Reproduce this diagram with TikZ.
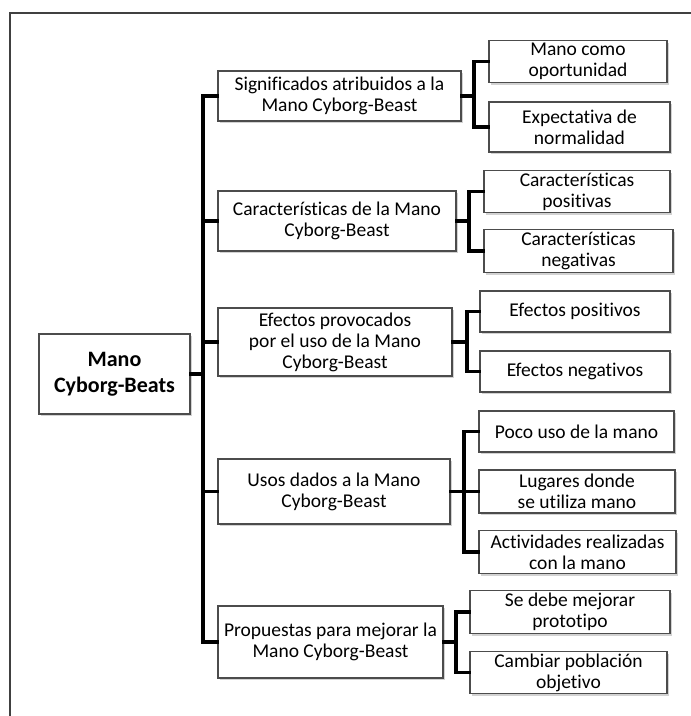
\documentclass[tikz,border=0pt]{standalone}
\usepackage{fontspec}
\setmainfont{Carlito}[Ligatures={NoCommon}]
\usetikzlibrary{shadows}
\begin{document}
\begin{tikzpicture}[x=1pt,y=-1pt,
  box/.style={draw=gray!60!black, line width=1.1pt, fill=white, align=center,
    inner sep=0pt, font=\fontsize{19.5}{21}\selectfont,
    drop shadow={shadow xshift=2pt, shadow yshift=-2pt, fill=gray!70, opacity=0.5}},
  rootbox/.style={box, font=\fontsize{22}{25.5}\selectfont\bfseries},
  conn/.style={line width=3.8pt, black, line cap=rect, line join=miter},
  frame/.style={line width=1.3pt, gray!50!black}]
\useasboundingbox (0,0) rectangle (691,716);
\draw[frame] (10,716) -- (10,13) -- (691,13);
% root
\node[rootbox, minimum width=151pt, minimum height=80pt] (root) at (114.5,374) {Mano\\Cyborg-Beats};
% level 1
\node[box, minimum width=243pt, minimum height=50pt] (s1) at (339.5,96) {Significados atribuidos a la\\Mano Cyborg-Beast};
\node[box, minimum width=238pt, minimum height=60pt] (s2) at (337,221) {Características de la Mano\\Cyborg-Beast};
\node[box, minimum width=234pt, minimum height=68pt] (s3) at (335,342) {Efectos provocados\\por el uso de la Mano\\Cyborg-Beast};
\node[box, minimum width=232pt, minimum height=65pt] (s4) at (334,491.5) {Usos dados a la Mano\\Cyborg-Beast};
\node[box, minimum width=225pt, minimum height=72pt] (s5) at (330.5,642) {Propuestas para mejorar la\\Mano Cyborg-Beast};
% level 2
\node[box, minimum width=178pt, minimum height=42pt] (c11) at (578,61.5) {Mano como\\oportunidad};
\node[box, minimum width=181pt, minimum height=50pt] (c12) at (579.5,127) {Expectativa de\\normalidad};
\node[box, minimum width=186pt, minimum height=42pt] (c21) at (577,191.5) {Características\\positivas};
\node[box, minimum width=189pt, minimum height=43pt] (c22) at (578.5,251) {Características\\negativas};
\node[box, minimum width=190pt, minimum height=41pt] (c31) at (575,311.5) {Efectos positivos};
\node[box, minimum width=190pt, minimum height=41pt] (c32) at (575,371.5) {Efectos negativos};
\node[box, minimum width=195pt, minimum height=41pt] (c41) at (576.5,431.5) {Poco uso de la mano};
\node[box, minimum width=196pt, minimum height=43pt] (c42) at (577,491.5) {Lugares donde\\se utiliza mano};
\node[box, minimum width=197pt, minimum height=43pt] (c43) at (577.5,552) {Actividades realizadas\\con la mano};
\node[box, minimum width=200pt, minimum height=43pt] (c51) at (570,612) {Se debe mejorar\\prototipo};
\node[box, minimum width=197pt, minimum height=42pt] (c52) at (568.5,672.5) {Cambiar población\\objetivo};
% connector coordinates
\coordinate (spx) at (203,0);
\coordinate (k1) at (474,96);
\coordinate (k2) at (469,221);
\coordinate (k3) at (467,342);
\coordinate (k4) at (464,491.5);
\coordinate (k5) at (456,642);
% spine
\draw[conn] (s1.west) -| (spx |- s5.west) -- (s5.west);
\draw[conn] (root.east) -- (root.east -| spx);
\draw[conn] (s2.west) -- (s2.west -| spx);
\draw[conn] (s3.west) -- (s3.west -| spx);
\draw[conn] (s4.west) -- (s4.west -| spx);
% brackets
\draw[conn] (s1.east) -- (k1);
\draw[conn] (c11.west) -| (k1 |- c12.west) -- (c12.west);
\draw[conn] (s2.east) -- (k2);
\draw[conn] (c21.west) -| (k2 |- c22.west) -- (c22.west);
\draw[conn] (s3.east) -- (k3);
\draw[conn] (c31.west) -| (k3 |- c32.west) -- (c32.west);
\draw[conn] (s4.east) -- (k4);
\draw[conn] (c41.west) -| (k4 |- c43.west) -- (c43.west);
\draw[conn] (k4) -- (c42.west);
\draw[conn] (s5.east) -- (k5);
\draw[conn] (c51.west) -| (k5 |- c52.west) -- (c52.west);
\end{tikzpicture}
\end{document}
